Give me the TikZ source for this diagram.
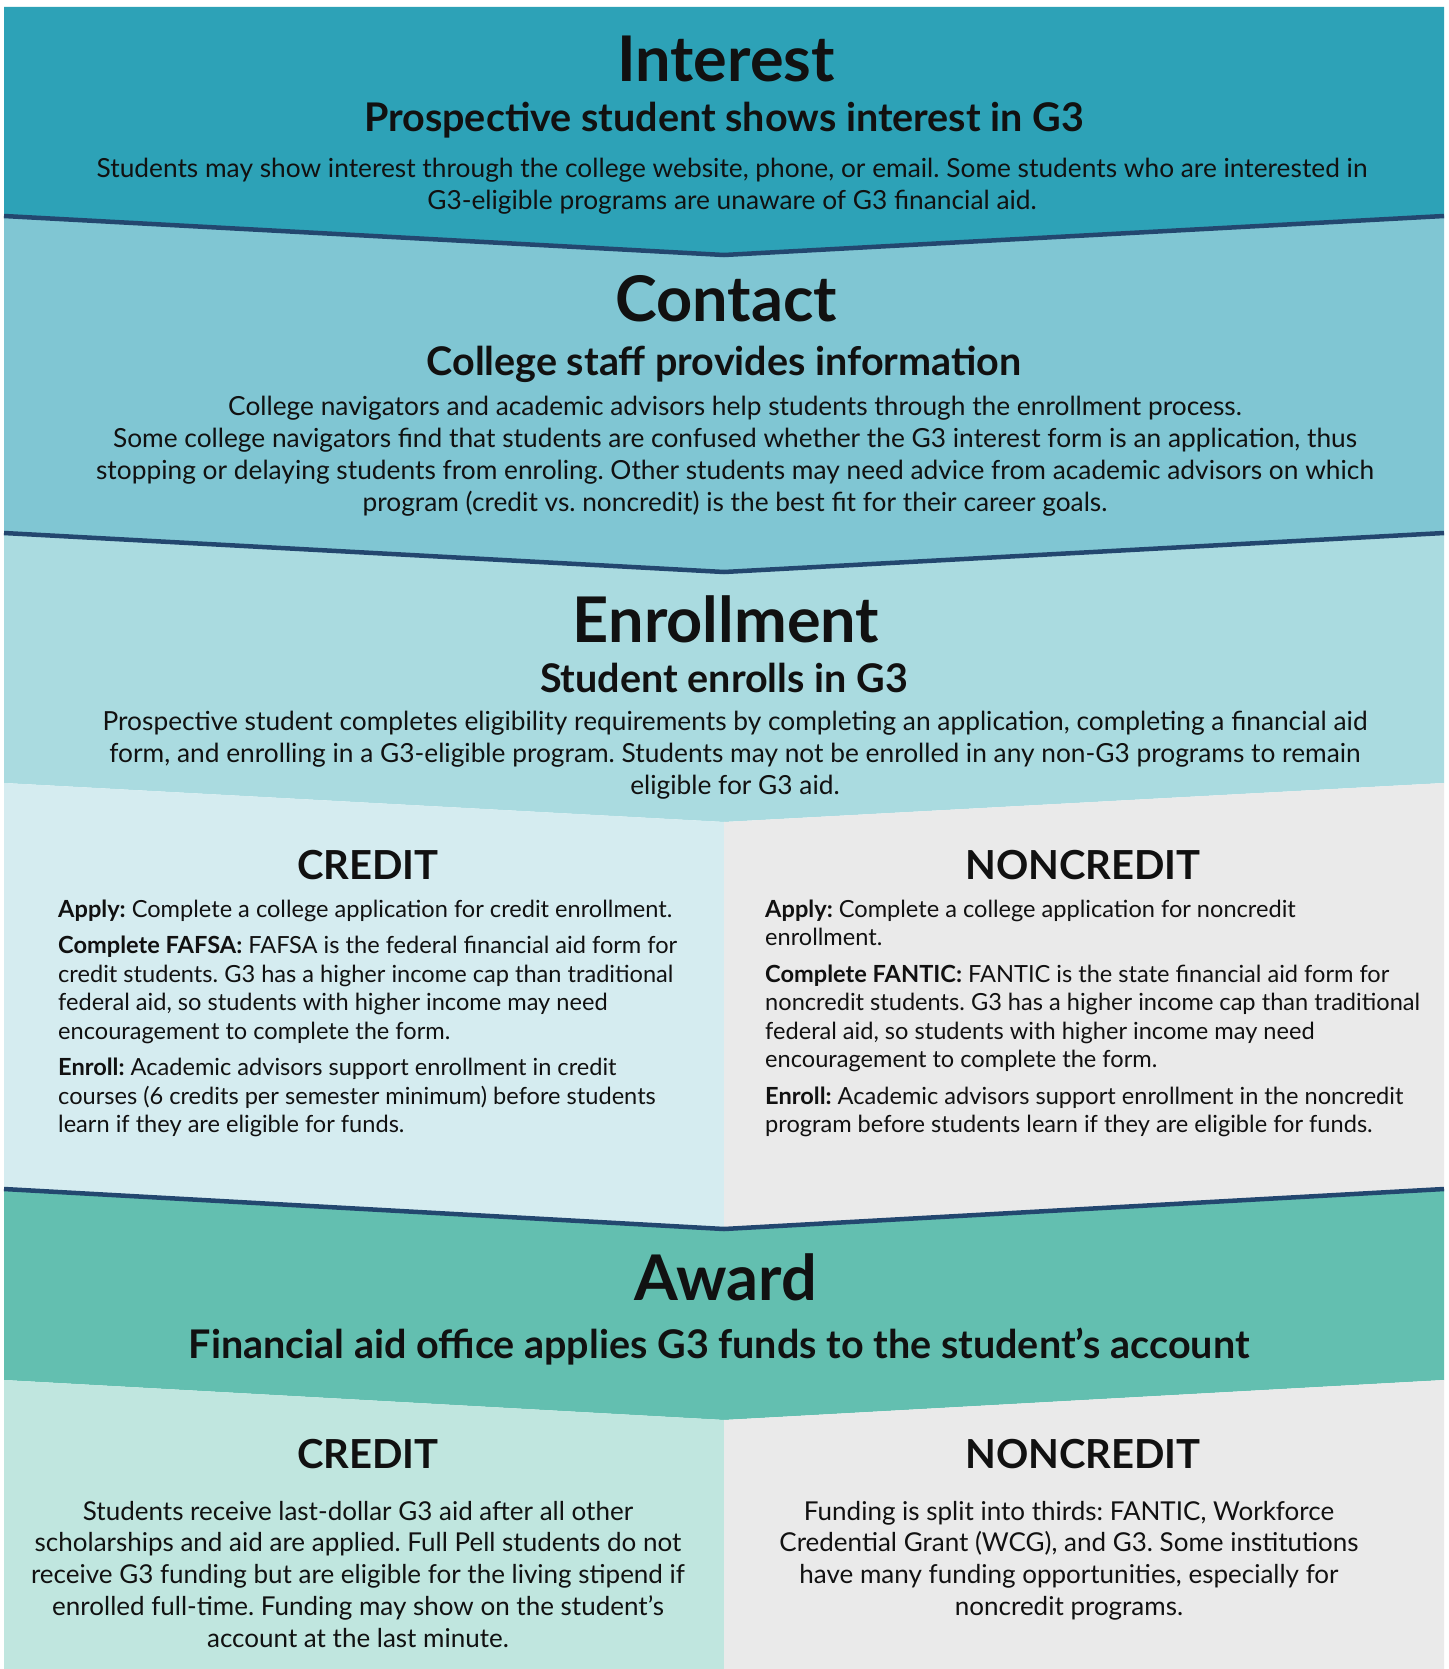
\documentclass[tikz,border=0pt]{standalone}
\usepackage{fontspec}
\setmainfont{Lato}
\frenchspacing
\definecolor{cInterest}{HTML}{2DA2B7}
\definecolor{cContact}{HTML}{80C6D3}
\definecolor{cEnroll}{HTML}{AADBE0}
\definecolor{cCredit}{HTML}{D5ECF0}
\definecolor{cNon}{HTML}{EAEAEA}
\definecolor{cAward}{HTML}{63BFB0}
\definecolor{cAwardCredit}{HTML}{C0E6DF}
\definecolor{cNavy}{HTML}{23476F}
\definecolor{cInk}{HTML}{111111}
\begin{document}
\begin{tikzpicture}[x=1pt,y=-1pt,
  ttl/.style={anchor=base,inner sep=0pt,text=cInk,font=\fontsize{63}{70}\selectfont\bfseries},
  subttl/.style={anchor=base,inner sep=0pt,text=cInk,font=\fontsize{39.5}{44}\selectfont\bfseries},
  coltitle/.style={anchor=base,inner sep=0pt,text=cInk,font=\fontsize{40}{46}\selectfont\bfseries},
  bodytxt/.style={anchor=base,inner sep=0pt,text=cInk,font=\fontsize{26.3}{32}\selectfont},
  coltxt/.style={anchor=base west,inner sep=0pt,text=cInk,font=\fontsize{23.6}{28.5}\selectfont},
  awardtxt/.style={anchor=base,inner sep=0pt,text=cInk,font=\fontsize{26}{31.75}\selectfont},
  divider/.style={draw=cNavy,line width=4.5pt,line join=miter}]
\useasboundingbox (0,0) rectangle (1448,1669);
\fill[white] (0,0) rectangle (1448,1669);

% coloured bands, each bounded by chevrons
\fill[cInterest] (4,7) -- (1444,7) -- (1444,216) -- (724,255) -- (4,216) -- cycle;
\fill[cContact] (4,216) -- (724,255) -- (1444,216) -- (1444,533) -- (724,572) -- (4,533) -- cycle;
\fill[cEnroll] (4,533) -- (724,572) -- (1444,533) -- (1444,783) -- (724,822) -- (4,783) -- cycle;
\fill[cCredit] (4,783) -- (725,822) -- (725,1229) -- (4,1189) -- cycle;
\fill[cNon] (724,822) -- (1444,783) -- (1444,1189) -- (724,1229) -- cycle;
\fill[cAward] (4,1189) -- (724,1229) -- (1444,1189) -- (1444,1380) -- (724,1420) -- (4,1380) -- cycle;
\fill[cAwardCredit] (4,1380) -- (725,1420) -- (725,1669) -- (4,1669) -- cycle;
\fill[cNon] (724,1420) -- (1444,1380) -- (1444,1669) -- (724,1669) -- cycle;

% navy chevron dividers
\draw[divider] (4,216) -- (724,255) -- (1444,216);
\draw[divider] (4,533) -- (724,572) -- (1444,533);
\draw[divider] (4,1189) -- (724,1229) -- (1444,1189);

% Interest
\node[ttl] (intTitle) at (726,82) {Interest};
\node[subttl] (intSub) at (724,132) {Prospective student shows interest in G3};
\node[bodytxt] (intBody) at (732,178) {\parbox[t]{1420pt}{\centering
Students may show interest through the college website, phone, or email. Some students who are interested in\\
G3-eligible programs are unaware of G3 financial aid.}};

% Contact
\node[ttl] (conTitle) at (726,321) {Contact};
\node[subttl] (conSub) at (724,375) {College staff provides information};
\node[bodytxt] (conBody) at (735,415) {\parbox[t]{1420pt}{\centering
College navigators and academic advisors help students through the enrollment process.\\
Some college navigators find that students are confused whether the G3 interest form is an application, thus\\
stopping or delaying students from enroling. Other students may need advice from academic advisors on which\\
program (credit vs. noncredit) is the best fit for their career goals.}};

% Enrollment
\node[ttl] (enrTitle) at (726,642) {Enrollment};
\node[subttl] (enrSub) at (724,692) {Student enrolls in G3};
\node[bodytxt] (enrBody) at (735,730) {\parbox[t]{1420pt}{\centering
Prospective student completes eligibility requirements by completing an application, completing a financial aid\\
form, and enrolling in a G3-eligible program. Students may not be enrolled in any non-G3 programs to remain\\
eligible for G3 aid.}};

% Enrollment: credit column
\node[coltitle] (enrCredit) at (368,879) {CREDIT};
\node[coltxt] (enrCreditBody) at (58,917) {\parbox[t]{660pt}{\raggedright
\textbf{Apply:} Complete a college application for credit enrollment.\par\vspace{8pt}
\textbf{Complete FAFSA:} FAFSA is the federal financial aid form for\\
credit students. G3 has a higher income cap than traditional\\
federal aid, so students with higher income may need\\
encouragement to complete the form.\par\vspace{8pt}
\textbf{Enroll:} Academic advisors support enrollment in credit\\
courses (6 credits per semester minimum) before students\\
learn if they are eligible for funds.}};

% Enrollment: noncredit column
\node[coltitle] (enrNon) at (1083,879) {NONCREDIT};
\node[coltxt] (enrNonBody) at (765,917) {\parbox[t]{670pt}{\raggedright
\textbf{Apply:} Complete a college application for noncredit\\
enrollment.\par\vspace{8pt}
\textbf{Complete FANTIC:} FANTIC is the state financial aid form for\\
noncredit students. G3 has a higher income cap than traditional\\
federal aid, so students with higher income may need\\
encouragement to complete the form.\par\vspace{8pt}
\textbf{Enroll:} Academic advisors support enrollment in the noncredit\\
program before students learn if they are eligible for funds.}};

% Award
\node[ttl] (awdTitle) at (726,1300) {Award};
\node[subttl] (awdSub) at (719,1358) {Financial aid office applies G3 funds to the student’s account};

% Award: credit column
\node[coltitle] (awdCredit) at (368,1468) {CREDIT};
\node[awardtxt] (awdCreditBody) at (358,1520) {\parbox[t]{710pt}{\centering
Students receive last-dollar G3 aid after all other\\
scholarships and aid are applied. Full Pell students do not\\
receive G3 funding but are eligible for the living stipend if\\
enrolled full-time. Funding may show on the student’s\\
account at the last minute.}};

% Award: noncredit column
\node[coltitle] (awdNon) at (1083,1468) {NONCREDIT};
\node[awardtxt] (awdNonBody) at (1069,1520) {\parbox[t]{710pt}{\centering
Funding is split into thirds: FANTIC, Workforce\\
Credential Grant (WCG), and G3. Some institutions\\
have many funding opportunities, especially for\\
noncredit programs.}};
\end{tikzpicture}
\end{document}
